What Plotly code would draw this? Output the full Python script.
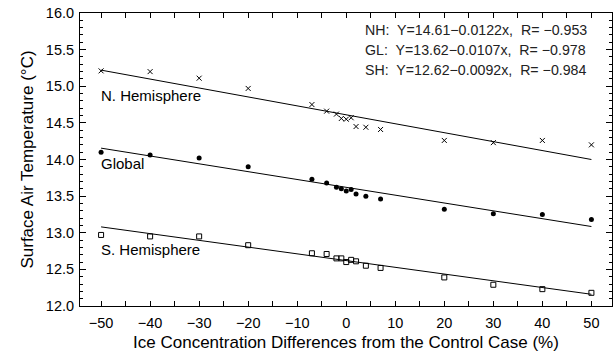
import plotly.graph_objects as go

# Data
ice_diff = [-50, -40, -30, -20, -7, -4, -2, -1, 0, 1, 2, 4, 7, 20, 30, 40, 50]
nh_temp = [15.21, 15.20, 15.11, 14.97, 14.75, 14.66, 14.62, 14.56, 14.55, 14.57,
           14.45, 14.44, 14.41, 14.26, 14.23, 14.26, 14.20]
gl_temp = [14.10, 14.06, 14.02, 13.90, 13.73, 13.68, 13.62, 13.60, 13.57, 13.59,
           13.53, 13.50, 13.46, 13.32, 13.26, 13.25, 13.18]
sh_temp = [12.97, 12.95, 12.95, 12.83, 12.72, 12.71, 12.65, 12.65, 12.60, 12.63,
           12.61, 12.55, 12.52, 12.39, 12.29, 12.23, 12.18]

fit_names = ["NH", "GL", "SH"]
fit_intercepts = [14.61, 13.62, 12.62]
fit_slopes = [-0.0122, -0.0107, -0.0092]
fit_r = [-0.953, -0.978, -0.984]
fit_x = [-50, 50]

region_labels = ["N. Hemisphere", "Global", "S. Hemisphere"]
region_label_y = [14.87, 13.94, 12.77]

x_tickvals = [-50, -40, -30, -20, -10, 0, 10, 20, 30, 40, 50]

FONT = "Liberation Sans, Arial, Helvetica, sans-serif"

fig = go.Figure()

# regression lines
for b, m in zip(fit_intercepts, fit_slopes):
    fig.add_trace(go.Scatter(
        x=fit_x, y=[b + m * xv for xv in fit_x], mode="lines",
        line=dict(color="black", width=1), showlegend=False, hoverinfo="skip"))

fig.add_trace(go.Scatter(
    x=ice_diff, y=nh_temp, mode="markers", showlegend=False,
    marker=dict(symbol="x-thin", size=5, line=dict(color="black", width=1), color="black")))
fig.add_trace(go.Scatter(
    x=ice_diff, y=gl_temp, mode="markers", showlegend=False,
    marker=dict(symbol="circle", size=5, color="black")))
fig.add_trace(go.Scatter(
    x=ice_diff, y=sh_temp, mode="markers", showlegend=False,
    marker=dict(symbol="square-open", size=5, color="black", line=dict(width=1))))

# region labels
for txt, yv in zip(region_labels, region_label_y):
    fig.add_annotation(x=-50.4, y=yv, text=txt, showarrow=False, xanchor="left",
                       yanchor="middle", font=dict(family=FONT, size=15, color="black"))

# equations
eq_y = [15.77, 15.50, 15.22]
for name, b, m, r, yv in zip(fit_names, fit_intercepts, fit_slopes, fit_r, eq_y):
    txt = f"{name}:  Y={b:.2f}\u2212{abs(m):.4f}x,  R= \u2212{abs(r):.3f}"
    fig.add_annotation(x=3.4, y=yv, text=txt, showarrow=False, xanchor="left",
                       yanchor="middle", font=dict(family=FONT, size=14.2, color="#222"))

fig.update_layout(
    width=613, height=354,
    margin=dict(l=80, r=1, t=13, b=48),
    plot_bgcolor="white", paper_bgcolor="white",
    font=dict(family=FONT, size=14, color="black"),
)
fig.update_xaxes(
    range=[-54.3, 54.2], tickvals=x_tickvals, ticks="inside", ticklen=5,
    tickcolor="black", showline=True, linecolor="black", linewidth=1, mirror="ticks",
    showgrid=False, zeroline=False, ticklabelstandoff=4,
    minor=dict(dtick=5, tick0=0, ticks="inside", ticklen=5, tickcolor="black", showgrid=False),
    title=dict(text="Ice Concentration Differences from the Control Case (%)",
               font=dict(size=17), standoff=5),
    tickfont=dict(size=14.5),
)
fig.update_yaxes(
    range=[12.0, 16.0], dtick=0.5, tick0=12, tickformat=".1f", ticks="inside", ticklen=6,
    tickcolor="black", showline=True, linecolor="black", linewidth=1, mirror="ticks",
    showgrid=False, zeroline=False, ticklabelstandoff=2,
    minor=dict(dtick=0.1, ticks="inside", ticklen=3, tickcolor="black", showgrid=False),
    title=dict(text="Surface Air Temperature (\u00b0C)", font=dict(size=17), standoff=7),
    tickfont=dict(size=14.5),
)

fig.write_html("out.html")
